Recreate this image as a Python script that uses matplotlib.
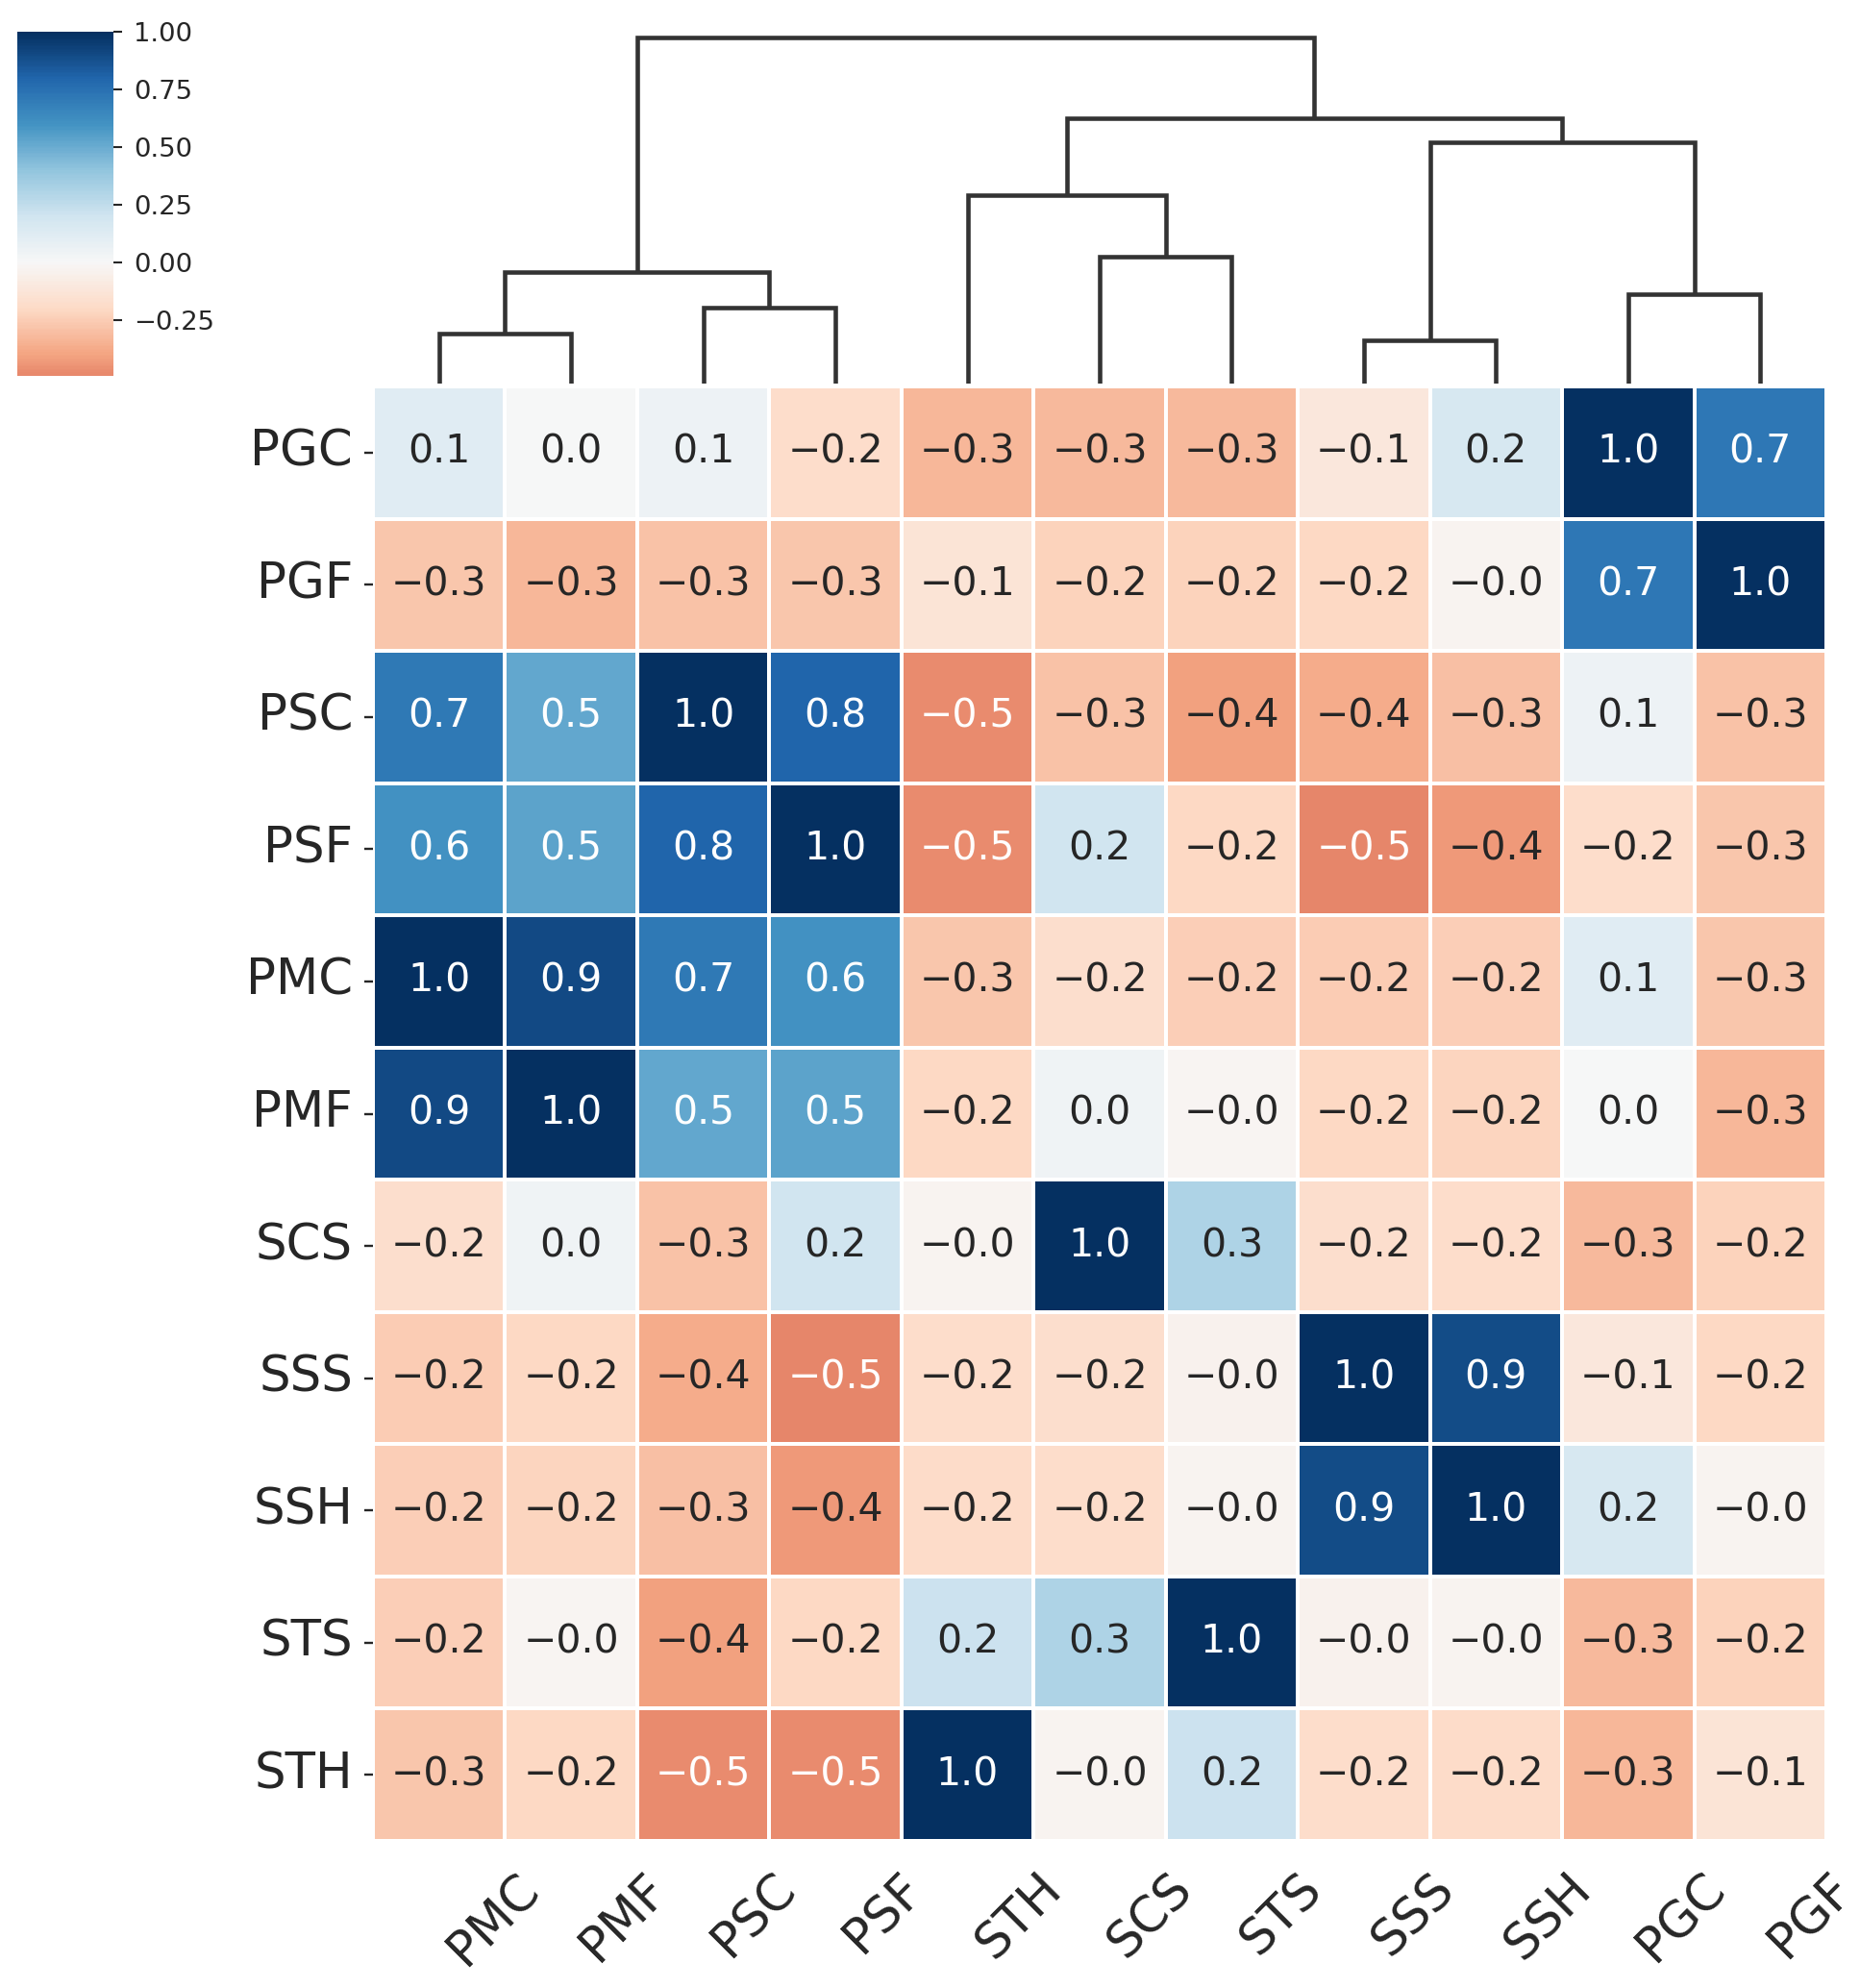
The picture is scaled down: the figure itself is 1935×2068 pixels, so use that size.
import numpy as np
import pandas as pd
import seaborn as sns
import matplotlib
matplotlib.use('Agg')
from matplotlib import pyplot as plt

# variables (row order of the heatmap)
names = ['PGC', 'PGF', 'PSC', 'PSF', 'PMC', 'PMF', 'SCS', 'SSS', 'SSH', 'STS', 'STH']

# correlation matrix, same order as names
corr_vals = [
    [1.00, 0.72, 0.05, -0.18, 0.12, 0.01, -0.32, -0.11, 0.17, -0.32, -0.33],
    [0.72, 1.00, -0.29, -0.27, -0.28, -0.33, -0.23, -0.21, -0.03, -0.23, -0.14],
    [0.05, -0.29, 1.00, 0.80, 0.71, 0.52, -0.29, -0.37, -0.30, -0.41, -0.47],
    [-0.18, -0.27, 0.80, 1.00, 0.60, 0.53, 0.20, -0.49, -0.43, -0.20, -0.47],
    [0.12, -0.28, 0.71, 0.60, 1.00, 0.90, -0.17, -0.25, -0.24, -0.24, -0.27],
    [0.01, -0.33, 0.52, 0.53, 0.90, 1.00, 0.04, -0.21, -0.22, -0.02, -0.21],
    [-0.32, -0.23, -0.29, 0.20, -0.17, 0.04, 1.00, -0.17, -0.18, 0.31, -0.03],
    [-0.11, -0.21, -0.37, -0.49, -0.25, -0.21, -0.17, 1.00, 0.89, -0.04, -0.18],
    [0.17, -0.03, -0.30, -0.43, -0.24, -0.22, -0.18, 0.89, 1.00, -0.03, -0.19],
    [-0.32, -0.23, -0.41, -0.20, -0.24, -0.02, 0.31, -0.04, -0.03, 1.00, 0.22],
    [-0.33, -0.14, -0.47, -0.47, -0.27, -0.21, -0.03, -0.18, -0.19, 0.22, 1.00],
]

# column clustering, scipy style: [left, right, height], ids >= 11 are earlier merges
linkage = [
    [7, 8, 0.45],    # 11 SSS+SSH
    [4, 5, 0.52],    # 12 PMC+PMF
    [2, 3, 0.79],    # 13 PSC+PSF
    [0, 1, 0.93],    # 14 PGC+PGF
    [12, 13, 1.16],  # 15
    [6, 9, 1.32],    # 16 SCS+STS
    [10, 16, 1.96],  # 17
    [11, 14, 2.51],  # 18
    [17, 18, 2.76],  # 19
    [15, 19, 3.60],  # 20
]

n = len(names)

def leaves_of(node):
    if node < n:
        return [node]
    a, b, h = linkage[node - n]
    return leaves_of(a) + leaves_of(b)

col_idx = leaves_of(n + len(linkage) - 1)
col_names = [names[i] for i in col_idx]

# dendrogram segments
pos = {leaf: i + 0.5 for i, leaf in enumerate(col_idx)}
hgt = {leaf: 0.0 for leaf in col_idx}
segs = []
for k, (a, b, h) in enumerate(linkage):
    xa, xb = pos[a], pos[b]
    segs.append(([xa, xa, xb, xb], [hgt[a], h, h, hgt[b]]))
    pos[n + k] = (xa + xb) / 2
    hgt[n + k] = h

df = pd.DataFrame(corr_vals, index=names, columns=names)
data = df.loc[names, col_names]
annot = np.array([[f'{v:.1f}'.replace('-', '\u2212') for v in row] for row in data.values])

plt.rcParams['text.color'] = '.15'
plt.rcParams['xtick.color'] = '.15'
plt.rcParams['ytick.color'] = '.15'
plt.rcParams['axes.labelcolor'] = '.15'

W, H = 1935, 2068
fig = plt.figure(figsize=(W / 100, H / 100), dpi=100)

def box(x0, y0, x1, y1):
    return [x0 / W, 1 - y1 / H, (x1 - x0) / W, (y1 - y0) / H]

ax_hm = fig.add_axes(box(388, 402, 1900, 1915))
ax_den = fig.add_axes(box(388, 21, 1900, 399.5))
cax = fig.add_axes(box(18, 32.5, 118, 391))

sns.heatmap(data, ax=ax_hm, cmap='RdBu', center=0, vmax=1,
            annot=annot, fmt='', annot_kws={'fontsize': 29.5},
            linewidths=1.7, linecolor='white', cbar_ax=cax)

ax_hm.set_yticks(np.arange(n) + 0.5)
ax_hm.set_yticklabels(names, rotation=0, fontsize=37)
ax_hm.set_xticks(np.arange(n) + 0.5)
ax_hm.set_xticklabels(col_names, rotation=45, ha='left', fontsize=37)
ax_hm.tick_params(axis='y', length=6.5, width=1.7, pad=8.6)
ax_hm.tick_params(axis='x', length=0, pad=18)
ax_hm.set_xlabel('')
ax_hm.set_ylabel('')

cax.tick_params(labelsize=19.7, length=6.5, width=1.5, pad=8.6)

# dendrogram
for xs, ys in segs:
    ax_den.plot(xs, ys, color='.2', linewidth=3.3, solid_capstyle='butt',
                solid_joinstyle='miter')
ax_den.set_xlim(0, n)
ax_den.set_ylim(0, max(h for _, _, h in linkage) * 1.05)
ax_den.axis('off')

fig.savefig('out.png', dpi=100)
